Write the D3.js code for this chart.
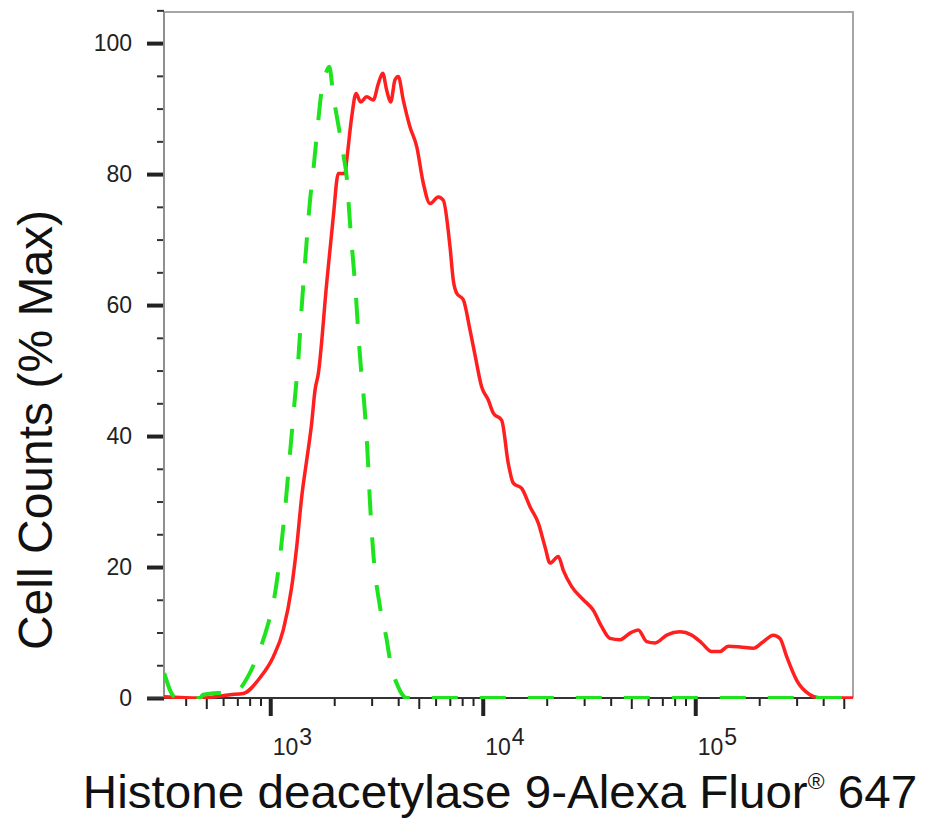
<!DOCTYPE html>
<html>
<head>
<meta charset="utf-8">
<script src="https://cdn.jsdelivr.net/npm/d3@7"></script>
<style>
  html, body { margin: 0; padding: 0; background: #fff; }
  svg { display: block; font-family: "Liberation Sans", Arial, sans-serif; }
</style>
</head>
<body>
<div id="chart"></div>
<script>
// stained sample (red, solid) - intensity / % of max
const redX = [316, 467, 647, 747, 895, 1034, 1152, 1262, 1332, 1406, 1484, 1567, 1624, 1683, 1843,
    1980, 2091, 2248, 2290, 2417, 2533, 2665, 2843, 3054, 3226, 3382, 3532, 3688, 3865, 4006,
    4227, 4546, 4890, 5252, 5646, 6177, 6522, 7014, 7268, 7541, 8100, 8710, 9194, 9887, 10620,
    11210, 12280, 13190, 13930, 15250, 16690, 18260, 19630, 20730, 22670, 23940, 26220, 29730,
    33130, 36290, 39710, 44260, 49320, 53950, 59090, 64680, 73390, 84770, 96230, 107300, 119500,
    130800, 143000, 162400, 187600, 209000, 233000, 250500, 269400, 300200, 346700, 386500, 552700];
const redY = [0.2, 0, 0.5, 0.7, 3.1, 6.3, 10.4, 17.0, 23.1, 30.7, 36.3, 42.0, 47.0, 49.5, 63.3,
    73.5, 80.1, 80.1, 82.1, 88.7, 92.3, 91.0, 91.8, 91.3, 93.8, 95.4, 92.8, 91.0, 94.4, 94.9,
    91.3, 87.2, 84.2, 78.6, 75.5, 76.5, 76.0, 68.9, 63.8, 61.8, 60.8, 56.2, 52.4, 47.5, 45.5,
    43.5, 42.4, 35.8, 32.8, 32.0, 29.2, 26.7, 23.1, 20.6, 21.6, 19.5, 17.0, 15.0,
    13.4, 10.9, 9.1, 8.9, 9.9, 10.4, 8.6, 8.4, 9.6, 10.1, 9.6, 8.4, 7.1,
    7.1, 7.9, 7.8, 7.6, 8.6, 9.6, 9.1, 6.3, 2.7, 0.5, 0, 0];

// control (green, dashed)
const greenX = [317, 356, 467, 483, 599, 683, 786, 879, 979, 1034, 1112, 1173, 1239, 1308, 1355,
    1406, 1473, 1539, 1595, 1665, 1746, 1809, 1896, 1980, 2091, 2207, 2290, 2373, 2460, 2533,
    2597, 2694, 2741, 2860, 2943, 3054, 3285, 3532, 3660, 4000, 4386, 552700];
const greenY = [3.8, 0.2, 0, 0.5, 0.8, 0.9, 3.3, 6.8, 11.4, 14.5, 21.6, 28.7, 37.4, 46.0, 51.6,
    59.7, 68.4, 76.0, 80.6, 86.7, 92.8, 94.9, 96.4, 92.0, 87.5, 83.0, 79.5, 72.5, 66.4, 61.2,
    55.7, 49.0, 46.6, 38.3, 30.2, 22.1, 13.9, 8.9, 5.8, 1.7, 0, 0];

const yMajor = [0, 20, 40, 60, 80, 100];
const xMajor = [1e3, 1e4, 1e5];
const xTitle = "Histone deacetylase 9-Alexa Fluor";
const yTitle = "Cell Counts (% Max)";

const W = 929, H = 819;
const plot = {left: 164, right: 853, top: 12, bottom: 698};

const svg = d3.select("#chart").append("svg")
    .attr("width", W).attr("height", H);

const x = d3.scaleLog()
    .domain([Math.pow(10, 2.5), Math.pow(10, 5.7424)])
    .range([plot.left, plot.right]);
const y = d3.scaleLinear()
    .domain([0, 104.75])
    .range([plot.bottom, plot.top]);

// frame (top / right border is light gray)
svg.append("path")
    .attr("d", `M${plot.left},${plot.top}H${plot.right}V${plot.bottom}`)
    .attr("fill", "none").attr("stroke", "#a6a6a6").attr("stroke-width", 2);

// ---- y axis
const yMinor = d3.range(0, 106, 5).filter(v => !yMajor.includes(v));
const gyMinor = svg.append("g")
    .attr("transform", `translate(${plot.left},0)`)
    .call(d3.axisLeft(y).tickValues(yMinor).tickSize(7).tickFormat(""));
gyMinor.selectAll(".tick line").attr("stroke", "#333").attr("stroke-width", 2);
gyMinor.select(".domain").remove();

const gy = svg.append("g")
    .attr("transform", `translate(${plot.left},0)`)
    .call(d3.axisLeft(y).tickValues(yMajor).tickSize(17).tickPadding(15).tickFormat(d3.format("d")));
gy.select(".domain").remove();
gy.selectAll(".tick line").attr("stroke", "#222").attr("stroke-width", 4);
gy.selectAll(".tick text")
    .attr("fill", "#222").attr("font-size", 23);

svg.append("line")
    .attr("x1", plot.left).attr("x2", plot.left)
    .attr("y1", plot.top).attr("y2", plot.bottom)
    .attr("stroke", "#8f8f8f").attr("stroke-width", 2);

// ---- x axis (log, decades with 2..9 minor ticks, 5x a bit longer)
let xMinor = [], xMid = [];
for (let e = 2; e <= 5; e++)
    for (let m = 2; m <= 9; m++) {
        let v = m * Math.pow(10, e);
        if (v < x.domain()[0] || v > x.domain()[1]) continue;
        if (m === 5) xMid.push(v); else xMinor.push(v);
    }

[[xMinor, 8, 2], [xMid, 11, 2]].forEach(([vals, size, w]) => {
    let g = svg.append("g")
        .attr("transform", `translate(0,${plot.bottom})`)
        .call(d3.axisBottom(x).tickValues(vals).tickSize(size).tickFormat(""));
    g.select(".domain").remove();
    g.selectAll(".tick line").attr("stroke", "#222").attr("stroke-width", w);
});

const gx = svg.append("g")
    .attr("transform", `translate(0,${plot.bottom})`)
    .call(d3.axisBottom(x).tickValues(xMajor).tickSize(18).tickFormat(""));
gx.select(".domain").remove();
gx.selectAll(".tick line").attr("stroke", "#222").attr("stroke-width", 4);
gx.selectAll(".tick").append("text")
    .attr("x", 2).attr("y", 57)
    .attr("text-anchor", "start")
    .attr("fill", "#222").attr("font-size", 23)
    .each(function(d) {
        let t = d3.select(this);
        t.append("tspan").text("10");
        t.append("tspan").attr("dx", 1).attr("dy", -10).text(Math.round(Math.log10(d)));
    });

svg.append("line")
    .attr("x1", plot.left - 17).attr("x2", plot.right)
    .attr("y1", plot.bottom).attr("y2", plot.bottom)
    .attr("stroke", "#333").attr("stroke-width", 2);

// ---- curves
svg.append("clipPath").attr("id", "clip")
    .append("rect")
    .attr("x", plot.left).attr("y", plot.top - 5)
    .attr("width", plot.right - plot.left).attr("height", plot.bottom - plot.top + 6);

const line = d3.line()
    .x(d => x(d[0]))
    .y(d => y(d[1]))
    .curve(d3.curveMonotoneX);

const curves = svg.append("g").attr("clip-path", "url(#clip)");
curves.append("path")
    .datum(d3.zip(redX, redY))
    .attr("d", line)
    .attr("fill", "none")
    .attr("stroke", "#ff1f1f")
    .attr("stroke-width", 3.5)
    .attr("stroke-linejoin", "round");
curves.append("path")
    .datum(d3.zip(greenX, greenY))
    .attr("d", line)
    .attr("fill", "none")
    .attr("stroke", "#1fe31f")
    .attr("stroke-width", 4)
    .attr("stroke-dasharray", "26,22");

// ---- titles (x title slightly wider than the font, as in the original)
const xt = svg.append("text")
    .attr("transform", "translate(500,808) scale(1.035,1)")
    .attr("text-anchor", "middle")
    .attr("font-size", 46)
    .attr("fill", "#111");
xt.append("tspan").text(xTitle);
xt.append("tspan").attr("font-size", 22).attr("dy", -19).text("\u00AE");
xt.append("tspan").attr("dy", 19).text(" 647");

svg.append("text")
    .attr("transform", "translate(52,430) rotate(-90)")
    .attr("text-anchor", "middle")
    .attr("font-size", 48)
    .attr("fill", "#111")
    .text(yTitle);
</script>
</body>
</html>
